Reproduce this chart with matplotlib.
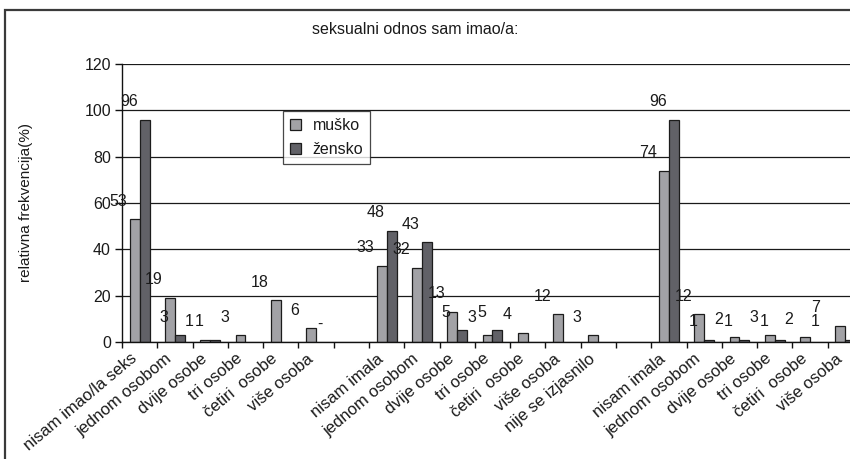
import matplotlib
matplotlib.use('Agg')
import matplotlib.pyplot as plt
import numpy as np
from matplotlib.patches import Rectangle, Patch
from matplotlib.transforms import offset_copy

plt.rcParams['font.family'] = ['Liberation Sans', 'DejaVu Sans']

title = 'seksualni odnos sam imao/a:'
y_label = 'relativna frekvencija(%)'
series_names = ['muško', 'žensko']
categories = ['nisam imao/la seks', 'jednom osobom', 'dvije osobe', 'tri osobe', 'četiri  osobe', 'više osoba', '',
              'nisam imala', 'jednom osobom', 'dvije osobe', 'tri osobe', 'četiri  osobe', 'više osoba',
              'nije se izjasnilo', '',
              'nisam imala', 'jednom osobom', 'dvije osobe', 'tri osobe', 'četiri  osobe', 'više osoba']
musko = [53, 19, 1, 3, 18, 6, None, 33, 32, 13, 3, 4, 12, 3, None, 74, 12, 2, 3, 2, 7]
zensko = [96, 3, 1, None, None, None, None, 48, 43, 5, 5, None, None, None, None, 96, 1, 1, 1, None, 1]
musko_labels = ['53', '19', '1', '3', '18', '6', '', '33', '32', '13', '3', '4', '12', '3', '',
                '74', '12', '2', '3', '2', '7']
zensko_labels = ['96', '3', '1', '', '', '-', '', '48', '43', '5', '5', '', '', '', '',
                 '96', '1', '1', '1', '', '1']
y_ticks = [0, 20, 40, 60, 80, 100, 120]

color_m = '#a2a2a6'
color_z = '#616167'
edge = '#1c1c1c'
txt = '#1a1a1a'

W, H = 850, 459
fig = plt.figure(figsize=(W / 100, H / 100), dpi=100)
fig.patch.set_facecolor('white')

# outer frame
fig.add_artist(Rectangle((5 / W, -0.1), 2.0, 1 - 10 / H + 0.1, transform=fig.transFigure,
                         fill=False, lw=1.6, ec='#3a3a3a'))

ax = fig.add_axes([122 / W, 1 - 342 / H, (863 - 122) / W, (342 - 64) / H])
n = len(categories)
x = np.arange(n) + 0.5
bw = 10 / 35.3

for i in range(n):
    if musko[i] is not None:
        ax.bar(x[i] - bw / 2, musko[i], bw, color=color_m, edgecolor=edge, lw=0.9, zorder=3)
    if zensko[i] is not None:
        ax.bar(x[i] + bw / 2, zensko[i], bw, color=color_z, edgecolor=edge, lw=0.9, zorder=3)

overrides = {(0, 20): (-25, 18), (1, 20): (-35, 18), (1, 5): (-1, 18)}
for s, (vals, labs) in enumerate([(musko, musko_labels), (zensko, zensko_labels)]):
    for i in range(n):
        if not labs[i]:
            continue
        v = vals[i] if vals[i] is not None else 0
        xc = x[i] - bw / 2 if s == 0 else x[i] + bw / 2
        off = overrides.get((s, i), (-16, 18))
        ax.annotate(labs[i], (xc, v), xytext=off, textcoords='offset pixels',
                    ha='center', va='center', fontsize=11.5, color=txt, zorder=5)

ax.set_xlim(0, n)
ax.set_ylim(0, 120)
ax.set_yticks(y_ticks)
ax.set_yticklabels([str(t) for t in y_ticks], fontsize=11.5, color=txt)
ax.set_xticks(np.arange(n + 1))
ax.set_xticklabels([])
ax.tick_params(axis='x', direction='out', length=4, width=1, color='#111')
ax.tick_params(axis='y', direction='out', length=5, width=1, color='#111', pad=3)
ax.yaxis.grid(True, color='#1a1a1a', lw=0.9)
ax.set_axisbelow(True)
for sp in ['top', 'right']:
    ax.spines[sp].set_visible(False)
for sp in ['left', 'bottom']:
    ax.spines[sp].set_color('#111')
    ax.spines[sp].set_linewidth(1.0)
ax.spines['bottom'].set_zorder(4)

trans = offset_copy(ax.get_xaxis_transform(), fig=fig, x=-10, y=-9, units='dots')
for i, c in enumerate(categories):
    if c:
        ax.text(x[i], 0, c, transform=trans, rotation=40, rotation_mode='anchor',
                ha='right', va='top', fontsize=12, color=txt)

fig.text(415 / W, 1 - 30 / H, title, ha='center', va='center', fontsize=11.5, color=txt)
fig.text(26 / W, 1 - 203 / H, y_label, rotation=90, ha='center', va='center', fontsize=11, color=txt)

handles = [Patch(facecolor=color_m, edgecolor=edge, lw=0.9),
           Patch(facecolor=color_z, edgecolor=edge, lw=0.9)]
leg = fig.legend(handles, series_names, loc='upper left', bbox_to_anchor=(283 / W, 1 - 111 / H),
                 fontsize=11.5, frameon=True, fancybox=False, shadow=False, handlelength=0.7,
                 handleheight=0.7, handletextpad=0.7, labelspacing=0.55, borderpad=0.45,
                 borderaxespad=0)
leg.get_frame().set_edgecolor('#1a1a1a')
leg.get_frame().set_linewidth(0.9)
for t in leg.get_texts():
    t.set_color(txt)

fig.savefig('out.png', dpi=100)
